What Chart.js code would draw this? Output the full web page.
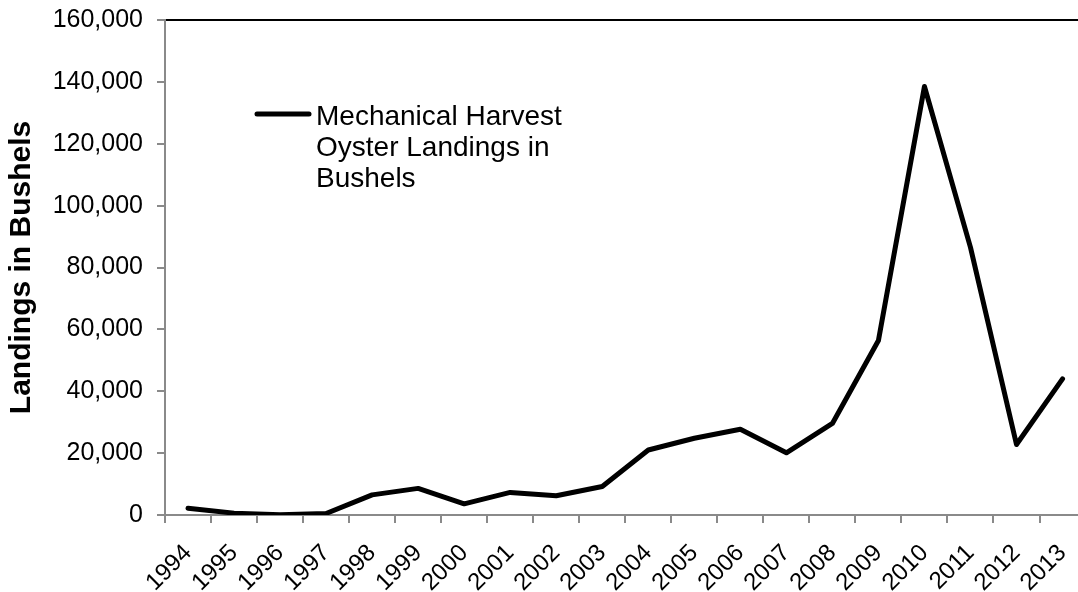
<!DOCTYPE html>
<html lang="en">
<head>
    <meta charset="UTF-8">
    <title>Mechanical Harvest Oyster Landings</title>
    <script src="https://cdn.jsdelivr.net/npm/chart.js"></script>
    <style>
        html, body {
            margin: 0;
            padding: 0;
            background: #fff;
            overflow: hidden;
        }
        #wrap {
            width: 1078px;
            height: 592px;
            overflow: hidden;
        }
    </style>
</head>
<body>
    <div id="wrap">
        <canvas id="landingsChart" width="1099" height="592"></canvas>
    </div>

    <script>
        // Data
        const years = ['1994', '1995', '1996', '1997', '1998', '1999', '2000', '2001', '2002', '2003',
                       '2004', '2005', '2006', '2007', '2008', '2009', '2010', '2011', '2012', '2013'];
        const bushels = [2200, 600, 100, 500, 6500, 8600, 3600, 7300, 6200, 9200,
                         21000, 24800, 27700, 20100, 29600, 56400, 138500, 86500, 22800, 44000];
        const seriesLabel = 'Mechanical Harvest Oyster Landings in Bushels';
        const legendLines = ['Mechanical Harvest', 'Oyster Landings in', 'Bushels'];
        const yAxisTitle = 'Landings in Bushels';

        const FONT = '"Liberation Sans", Arial, sans-serif';
        const AXIS_GRAY = '#8a8a8a';

        // Legend drawn inside the plot, like the original
        const insideLegend = {
            id: 'insideLegend',
            afterDatasetsDraw(chart) {
                const ctx = chart.ctx;
                ctx.save();
                ctx.strokeStyle = '#000';
                ctx.lineWidth = 5;
                ctx.lineCap = 'round';
                ctx.beginPath();
                ctx.moveTo(257, 114);
                ctx.lineTo(309, 114);
                ctx.stroke();
                ctx.fillStyle = '#000';
                ctx.font = '28px ' + FONT;
                ctx.textAlign = 'left';
                ctx.textBaseline = 'alphabetic';
                legendLines.forEach((line, i) => {
                    ctx.fillText(line, 316, 125 + i * 31);
                });
                ctx.restore();
            }
        };

        new Chart(document.getElementById('landingsChart'), {
            type: 'line',
            data: {
                labels: years,
                datasets: [{
                    label: seriesLabel,
                    data: bushels,
                    borderColor: '#000',
                    backgroundColor: '#000',
                    borderWidth: 5,
                    borderJoinStyle: 'round',
                    borderCapStyle: 'round',
                    pointRadius: 0,
                    tension: 0
                }]
            },
            options: {
                responsive: false,
                animation: false,
                devicePixelRatio: 1,
                layout: {
                    padding: { top: 0, right: 4, bottom: 0, left: 0 }
                },
                plugins: {
                    legend: { display: false },
                    tooltip: { enabled: false }
                },
                scales: {
                    x: {
                        offset: true,
                        grid: {
                            offset: true,
                            drawOnChartArea: false,
                            tickLength: 8,
                            tickColor: AXIS_GRAY,
                            lineWidth: 2
                        },
                        border: { color: AXIS_GRAY, width: 2 },
                        ticks: {
                            autoSkip: false,
                            maxRotation: 45,
                            minRotation: 45,
                            padding: 16,
                            color: '#000',
                            font: { family: FONT, size: 24 }
                        },
                        afterFit(scale) { scale.height = 77; }
                    },
                    y: {
                        min: 0,
                        max: 160000,
                        ticks: {
                            stepSize: 20000,
                            padding: 14,
                            color: '#000',
                            font: { family: FONT, size: 25, lineHeight: 1 },
                            callback: (v) => v.toLocaleString('en-US')
                        },
                        grid: {
                            tickLength: 8,
                            tickColor: AXIS_GRAY,
                            lineWidth: 2,
                            color: (c) => (c.tick && c.tick.value === 160000) ? '#000' : 'rgba(0,0,0,0)'
                        },
                        border: { color: AXIS_GRAY, width: 2 },
                        title: {
                            display: true,
                            text: yAxisTitle,
                            color: '#000',
                            padding: { top: 4, bottom: 0 },
                            font: { family: FONT, size: 30, weight: 'bold' }
                        },
                        afterFit(scale) {
                            scale.width = 165;
                            scale.paddingTop = 20;
                            scale.paddingBottom = 0;
                        }
                    }
                }
            },
            plugins: [insideLegend]
        });
    </script>
</body>
</html>
